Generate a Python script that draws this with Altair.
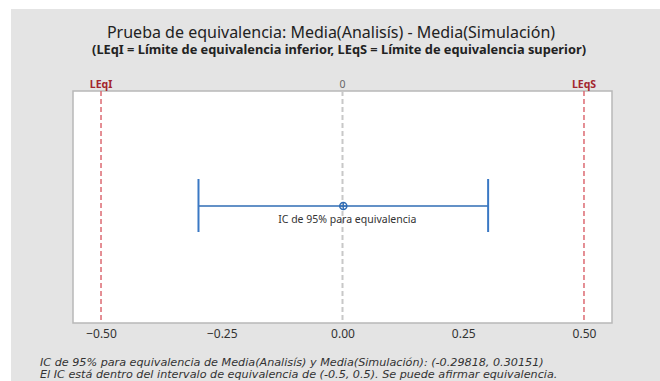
import altair as alt
import pandas as pd

# ---- data ----
ci_lower = [-0.29818]
ci_upper = [0.30151]
estimate = [(-0.29818 + 0.30151) / 2]
limit_names = ["LEqI", "LEqS"]
limit_values = [-0.5, 0.5]
zero_value = [0.0]
zero_label = ["0"]
tick_values = [-0.50, -0.25, 0.00, 0.25, 0.50]
ci_label = ["IC de 95% para equivalencia"]
footnotes = [
    "IC de 95% para equivalencia de Media(Analisís) y Media(Simulación): (-0.29818, 0.30151)",
    "El IC está dentro del intervalo de equivalencia de (-0.5, 0.5). Se puede afirmar equivalencia.",
]
title_text = ["Prueba de equivalencia: Media(Analisís) - Media(Simulación)"]
subtitle_text = ["(LEqI = Límite de equivalencia inferior, LEqS = Límite de equivalencia superior)"]

W, H = 539, 232
FONT = "Noto Sans"

xscale = alt.Scale(domain=[-0.558, 0.558], nice=False, zero=False)
xaxis = alt.Axis(values=tick_values, format=".2f", title=None, grid=False,
                 ticks=False, domain=False, labelFontSize=12, labelColor="#333333",
                 labelFont=FONT, labelPadding=5, zindex=2)


def X(field):
    return alt.X(field, scale=xscale, axis=xaxis)


ci_df = pd.DataFrame({"lo": ci_lower, "hi": ci_upper, "est": estimate, "label": ci_label})
lim_df = pd.DataFrame({"name": limit_names, "v": limit_values})
zero_df = pd.DataFrame({"v": zero_value, "t": zero_label})
foot_df = pd.DataFrame({"t": ["\n".join(footnotes)]})
title_df = pd.DataFrame({"t": title_text})
sub_df = pd.DataFrame({"t": subtitle_text})
one = pd.DataFrame({"a": [0]})

bg = alt.Chart(one).mark_rect(color="#e4e4e4").encode(
    x=alt.value(-62), x2=alt.value(600), y=alt.value(-82), y2=alt.value(300)
)
panel = alt.Chart(one).mark_rect(fill="white", stroke="#b8b8b8", strokeWidth=1.5).encode(
    x=alt.value(0), x2=alt.value(W), y=alt.value(0), y2=alt.value(H)
)

zero_rule = alt.Chart(zero_df).mark_rule(color="#c8c8c8", strokeWidth=2, strokeDash=[5, 3]).encode(
    x=X("v:Q"), y=alt.value(0), y2=alt.value(H)
)
lim_rule = alt.Chart(lim_df).mark_rule(color="#dc6a72", strokeWidth=1.5, strokeDash=[5, 3]).encode(
    x=X("v:Q"), y=alt.value(0), y2=alt.value(H)
)

ci_line = alt.Chart(ci_df).mark_rule(color="#2f6db5", strokeWidth=1.5).encode(
    x=X("lo:Q"), x2="hi:Q", y=alt.value(115),
)
cap_lo = alt.Chart(ci_df).mark_rule(color="#3a78c4", strokeWidth=2).encode(
    x=X("lo:Q"), y=alt.value(88), y2=alt.value(141)
)
cap_hi = alt.Chart(ci_df).mark_rule(color="#3a78c4", strokeWidth=2).encode(
    x=X("hi:Q"), y=alt.value(88), y2=alt.value(141)
)
pt_circle = alt.Chart(ci_df).mark_point(shape="circle", filled=False, size=50,
                                        color="#2f6db5", strokeWidth=1.5, opacity=1).encode(
    x=X("est:Q"), y=alt.value(115)
)
pt_cross = alt.Chart(ci_df).mark_point(shape="M-1,0L1,0M0,-1L0,1", filled=False, size=50,
                                       color="#2f6db5", strokeWidth=1.2, opacity=1).encode(
    x=X("est:Q"), y=alt.value(115)
)
ci_text = alt.Chart(ci_df).mark_text(font=FONT, fontSize=10.5, color="#333333",
                                     align="center", baseline="middle", dx=4).encode(
    x=X("est:Q"), y=alt.value(129), text="label:N"
)

lim_text = alt.Chart(lim_df).mark_text(font=FONT, fontSize=10.5, baseline="bottom",
                                       align="center", fontWeight="bold",
                                       color="#a3262e").encode(
    x=X("v:Q"), y=alt.value(-1), text="name:N"
)
zero_text = alt.Chart(zero_df).mark_text(font=FONT, fontSize=10.5, baseline="bottom",
                                         align="center", color="#666666").encode(
    x=X("v:Q"), y=alt.value(-1), text="t:N"
)

foot_text = alt.Chart(foot_df).mark_text(font="DejaVu Sans", fontSize=11.2, fontStyle="italic",
                                         color="#333333", align="left", baseline="alphabetic",
                                         lineBreak="\n", lineHeight=11.8).encode(
    x=alt.value(-33), y=alt.value(275), text="t:N",
)

title_mark = alt.Chart(title_df).mark_text(font=FONT, fontSize=16, color="#222222",
                                           align="center", baseline="alphabetic").encode(
    x=alt.value(258), y=alt.value(-53), text="t:N"
)
sub_mark = alt.Chart(sub_df).mark_text(font=FONT, fontSize=12.8, fontWeight="bold",
                                       color="#222222", align="center",
                                       baseline="alphabetic").encode(
    x=alt.value(266), y=alt.value(-37), text="t:N"
)

chart = alt.layer(
    bg, panel, zero_rule, lim_rule, ci_line, cap_lo, cap_hi, pt_circle, pt_cross,
    ci_text, lim_text, zero_text, foot_text, title_mark, sub_mark
).properties(
    width=W, height=H,
    autosize=alt.AutoSizeParams(type="none"),
    padding={"left": 73, "top": 91, "right": 48, "bottom": 58},
    background="white",
).configure_view(stroke=None)

chart.save("out.html", embed_options={"renderer": "svg", "actions": False})
